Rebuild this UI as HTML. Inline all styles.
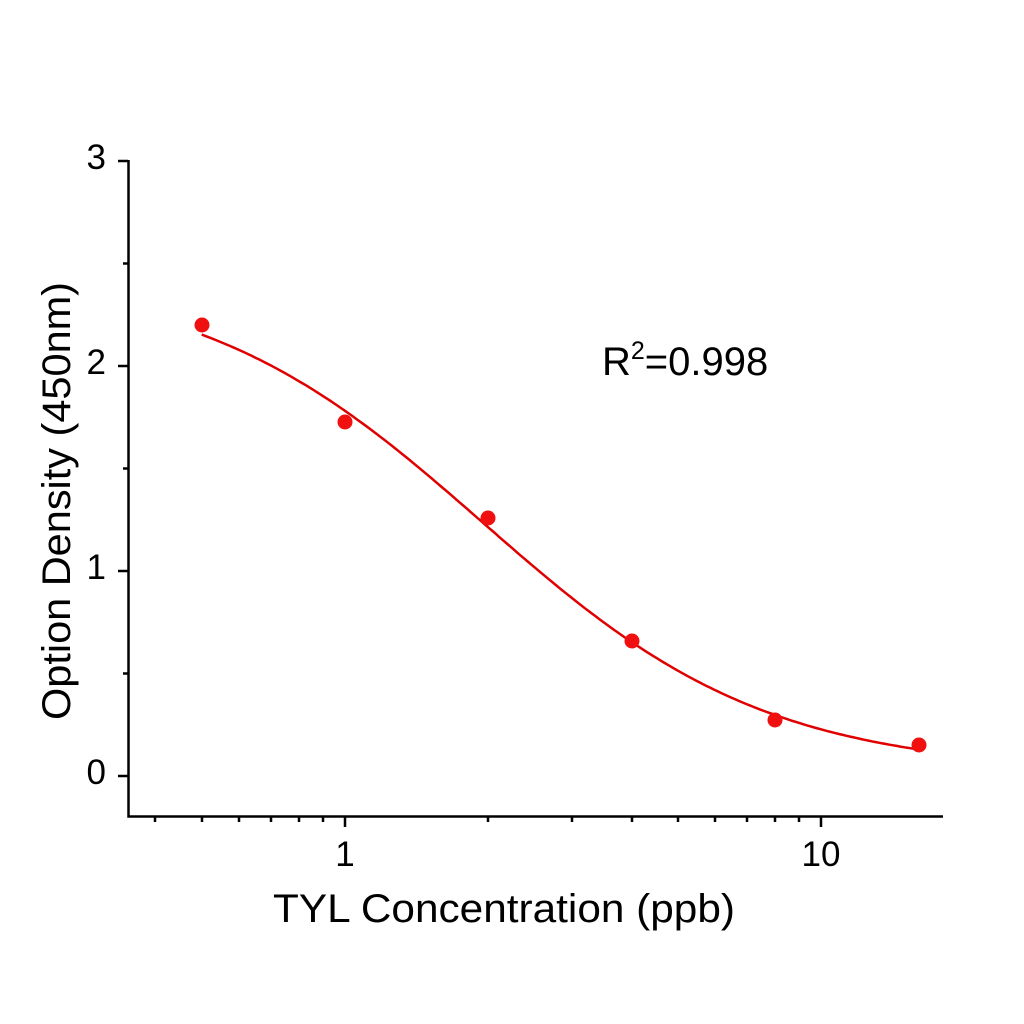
<!DOCTYPE html>
<html><head><meta charset="utf-8"><style>
html,body{margin:0;padding:0;background:#fff;}
svg{display:block;}
text{font-family:"Liberation Sans","DejaVu Sans",sans-serif;fill:#000;}
</style></head><body>
<svg id="s" width="1024" height="1024" viewBox="0 0 1024 1024">
<rect width="1024" height="1024" fill="#fff"/>
<g stroke="#000" stroke-width="2.5" fill="none">
<path d="M128.5 160 V816.5 H943"/>
<path d="M118 161 H128 M118 366 H128 M118 571 H128 M118 776 H128"/>
<path d="M123 263.5 H128 M123 468.5 H128 M123 673.5 H128"/>
<path d="M345 816 V827 M821 816 V827"/>
<path d="M155 816 V822 M202 816 V822 M239 816 V822 M271 816 V822 M299 816 V822 M323 816 V822 M488 816 V822 M572 816 V822 M632 816 V822 M678 816 V822 M715 816 V822 M747 816 V822 M775 816 V822 M799 816 V822"/>
</g>
<g font-size="35" text-anchor="end">
<text x="106" y="169">3</text>
<text x="106" y="374">2</text>
<text x="106" y="579">1</text>
<text x="106" y="784">0</text>
</g>
<g font-size="35" text-anchor="middle">
<text x="345" y="866">1</text>
<text x="821" y="866">10</text>
</g>
<text x="273" y="922" font-size="40" textLength="462" lengthAdjust="spacingAndGlyphs">TYL  Concentration  (ppb)</text>
<text transform="translate(70,720) rotate(-90)" font-size="40" textLength="438" lengthAdjust="spacingAndGlyphs">Option Density  (450nm)</text>
<text x="602" y="375" font-size="40">R<tspan font-size="25" dy="-16">2</tspan><tspan dy="16">=0.998</tspan></text>
<path id="c" fill="none" stroke="#e00000" stroke-width="2.5"/>
<g fill="#f01010">
<circle cx="202" cy="325" r="7.5"/>
<circle cx="345" cy="422" r="7.5"/>
<circle cx="488" cy="518" r="7.5"/>
<circle cx="632" cy="641" r="7.5"/>
<circle cx="775" cy="720" r="7.5"/>
<circle cx="919" cy="745" r="7.5"/>
</g>
</svg>
<script>
var A=2.45,D=0.02,C=1.95,B=1.45,d="";
for(var i=0;i<=200;i++){var lx=Math.log10(0.5)+i/200*(Math.log10(16)-Math.log10(0.5));var x=Math.pow(10,lx);
var y=D+(A-D)/(1+Math.pow(x/C,B));var px=345+lx*476,py=776-y*205;d+=(i?"L":"M")+px.toFixed(1)+" "+py.toFixed(1);}
document.getElementById("c").setAttribute("d",d);
</script>
</body></html>
